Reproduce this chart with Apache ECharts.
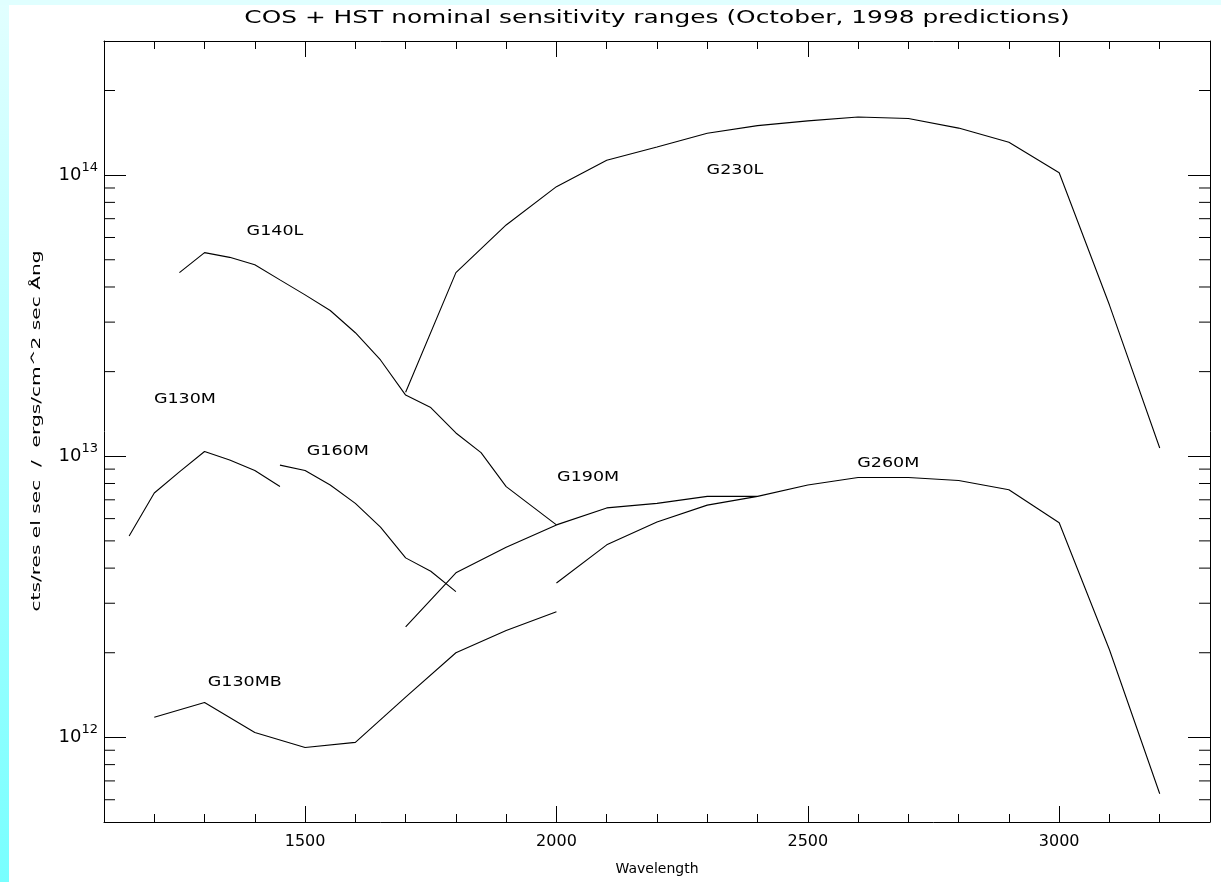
<!DOCTYPE html>
<html>
<head>
<meta charset="utf-8">
<title>COS + HST nominal sensitivity ranges</title>
<script src="https://cdn.jsdelivr.net/npm/echarts@6/dist/echarts.min.js"></script>
<style>
  html, body { margin: 0; padding: 0; background: #fff; }
  #chart {
    width: 1221px; height: 882px;
    background:
      linear-gradient(#e0ffff, #e0ffff) 0 0 / 100% 5px no-repeat,
      linear-gradient(#e2ffff, #78ffff) 0 0 / 9px 100% no-repeat,
      #fff;
  }
</style>
</head>
<body>
<div id="chart"></div>
<script>
// wavelength in Angstrom, sensitivity in cts/resel sec / ergs/cm^2 sec Ang
var g130mWave = [1150, 1200, 1250, 1300, 1350, 1400, 1450];
var g130mSens = [5.2e12, 7.4e12, 8.8e12, 1.04e13, 9.7e12, 8.9e12, 7.8e12];

var g140lWave = [1250, 1300, 1350, 1400, 1450, 1500, 1550, 1600, 1650, 1700, 1750, 1800, 1850, 1900, 2000];
var g140lSens = [4.5e13, 5.3e13, 5.1e13, 4.8e13, 4.24e13, 3.75e13, 3.3e13, 2.75e13, 2.2e13, 1.65e13, 1.49e13, 1.21e13, 1.03e13, 7.8e12, 5.7e12];

var g160mWave = [1450, 1500, 1550, 1600, 1650, 1700, 1750, 1800];
var g160mSens = [9.3e12, 8.9e12, 7.9e12, 6.8e12, 5.6e12, 4.35e12, 3.9e12, 3.3e12];

var g190mWave = [1700, 1800, 1900, 2000, 2100, 2200, 2300, 2400];
var g190mSens = [2.47e12, 3.85e12, 4.75e12, 5.7e12, 6.55e12, 6.8e12, 7.2e12, 7.2e12];

var g260mWave = [2000, 2100, 2200, 2300, 2400, 2500, 2600, 2700, 2800, 2900, 3000, 3100, 3200];
var g260mSens = [3.54e12, 4.84e12, 5.84e12, 6.7e12, 7.2e12, 7.9e12, 8.4e12, 8.4e12, 8.2e12, 7.6e12, 5.8e12, 2.05e12, 6.3e11];

var g230lWave = [1700, 1800, 1900, 2000, 2100, 2200, 2300, 2400, 2500, 2600, 2700, 2800, 2900, 3000, 3100, 3200];
var g230lSens = [1.69e13, 4.5e13, 6.65e13, 9.1e13, 1.13e14, 1.26e14, 1.41e14, 1.5e14, 1.56e14, 1.61e14, 1.59e14, 1.47e14, 1.31e14, 1.02e14, 3.45e13, 1.07e13];

var g130mbWave = [1200, 1300, 1400, 1500, 1600, 1700, 1800, 1900, 2000];
var g130mbSens = [1.18e12, 1.33e12, 1.04e12, 9.2e11, 9.6e11, 1.39e12, 2.0e12, 2.4e12, 2.8e12];

// grating names written next to the curves
var labelNames = ['G230L', 'G140L', 'G130M', 'G160M', 'G190M', 'G260M', 'G130MB'];
var labelWave = [2355, 1440, 1261, 1565, 2063, 2660, 1380];
var labelSens = [1.04e14, 6.3e13, 1.59e13, 1.04e13, 8.4e12, 9.4e12, 1.57e12];

// axis ranges and log minor ticks (2..9 x 10^n)
var xMin = 1100, xMax = 3300;
var yMin = 5e11, yMax = 3e14;
var yMinorTicks = [6e11, 7e11, 8e11, 9e11,
  2e12, 3e12, 4e12, 5e12, 6e12, 7e12, 8e12, 9e12,
  2e13, 3e13, 4e13, 5e13, 6e13, 7e13, 8e13, 9e13, 2e14];

var FONT = '"DejaVu Sans", sans-serif';

function pairs(xs, ys) {
  return xs.map(function (x, i) { return [x, ys[i]]; });
}

function curve(name, xs, ys) {
  return {
    name: name,
    type: 'line',
    data: pairs(xs, ys),
    showSymbol: false,
    symbol: 'none',
    lineStyle: { color: '#000', width: 1.1 },
    silent: true
  };
}

var myChart = echarts.init(document.getElementById('chart'));

var axisLineStyle = { lineStyle: { color: '#000', width: 1 } };

myChart.setOption({
  animation: false,
  backgroundColor: 'transparent',
  grid: { left: 104, top: 41, right: 11, bottom: 60, containLabel: false, outerBoundsMode: 'none' },
  graphic: [
    {
      type: 'text', x: 657, y: 18, scaleX: 1.38,
      style: {
        text: 'COS + HST nominal sensitivity ranges (October, 1998 predictions)',
        font: '18px ' + FONT, fill: '#000', textAlign: 'center', textVerticalAlign: 'middle'
      }
    },
    {
      type: 'text', x: 37, y: 431, rotation: Math.PI / 2, scaleX: 1.55,
      style: {
        text: 'cts/res el sec  /  ergs/cm^2 sec \u00c5ng',
        font: '13px ' + FONT, fill: '#000', textAlign: 'center', textVerticalAlign: 'middle'
      }
    }
  ],
  xAxis: [
    {
      type: 'value', position: 'bottom', min: xMin, max: xMax, splitNumber: 5,
      name: 'Wavelength', nameLocation: 'middle', nameGap: 40,
      nameTextStyle: { color: '#000', fontSize: 14, fontFamily: FONT },
      axisLine: axisLineStyle,
      axisTick: { inside: true, length: 16, lineStyle: { color: '#000' } },
      minorTick: { show: true, splitNumber: 5, length: 8, lineStyle: { color: '#000' } },
      axisLabel: {
        color: '#000', fontSize: 16, fontFamily: FONT, margin: 12,
        showMinLabel: false, showMaxLabel: false,
        formatter: function (v) { return String(v); }
      },
      splitLine: { show: false }
    },
    {
      type: 'value', position: 'top', min: xMin, max: xMax, splitNumber: 5,
      axisLine: axisLineStyle,
      axisTick: { inside: true, length: 16, lineStyle: { color: '#000' } },
      minorTick: { show: true, splitNumber: 5, length: 8, lineStyle: { color: '#000' } },
      axisLabel: { show: false },
      splitLine: { show: false }
    }
  ],
  yAxis: [
    {
      type: 'log', logBase: 10, position: 'left', min: yMin, max: yMax,
      axisLine: axisLineStyle,
      axisTick: { inside: true, length: 22, lineStyle: { color: '#000' } },
      axisLabel: {
        color: '#000', fontSize: 18, fontFamily: FONT, margin: 6,
        showMinLabel: false, showMaxLabel: false,
        formatter: function (v) {
          var e = Math.round(Math.log10(v));
          if (Math.abs(Math.log10(v) - e) > 1e-6) return '';
          return '10{sup|' + e + '}';
        },
        rich: { sup: { fontSize: 13, fontFamily: FONT, color: '#000', padding: [0, 0, 15, 0] } }
      },
      splitLine: { show: false }
    },
    {
      type: 'log', logBase: 10, position: 'right', min: yMin, max: yMax,
      axisLine: axisLineStyle,
      axisTick: { inside: true, length: 22, lineStyle: { color: '#000' } },
      axisLabel: { show: false },
      splitLine: { show: false }
    }
  ],
  series: [
    curve('G130M', g130mWave, g130mSens),
    curve('G140L', g140lWave, g140lSens),
    curve('G160M', g160mWave, g160mSens),
    curve('G190M', g190mWave, g190mSens),
    curve('G260M', g260mWave, g260mSens),
    curve('G230L', g230lWave, g230lSens),
    curve('G130MB', g130mbWave, g130mbSens),
    {
      // minor ticks of the log axis, on both the left and right frame
      type: 'custom',
      silent: true,
      data: yMinorTicks.map(function (v) { return [xMin, v]; }),
      encode: { x: 0, y: 1 },
      renderItem: function (params, api) {
        var v = api.value(1);
        var l = api.coord([xMin, v]);
        var r = api.coord([xMax, v]);
        var st = { stroke: '#000', lineWidth: 1 };
        return {
          type: 'group',
          children: [
            { type: 'line', shape: { x1: l[0], y1: l[1], x2: l[0] + 11, y2: l[1] }, style: st },
            { type: 'line', shape: { x1: r[0] - 11, y1: r[1], x2: r[0], y2: r[1] }, style: st }
          ]
        };
      }
    },
    {
      type: 'custom',
      silent: true,
      data: pairs(labelWave, labelSens),
      encode: { x: 0, y: 1 },
      renderItem: function (params, api) {
        var p = api.coord([api.value(0), api.value(1)]);
        return {
          type: 'text', x: p[0], y: p[1], scaleX: 1.25,
          style: {
            text: labelNames[params.dataIndex], font: '14px ' + FONT, fill: '#000',
            textAlign: 'center', textVerticalAlign: 'middle'
          }
        };
      }
    }
  ]
});
</script>
</body>
</html>
